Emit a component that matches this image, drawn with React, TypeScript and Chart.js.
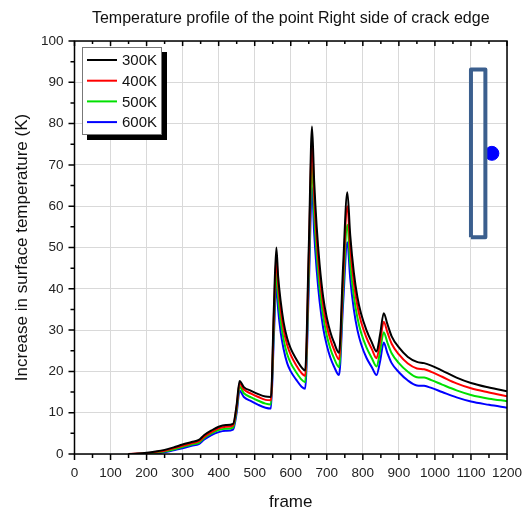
import React, { useEffect, useRef } from "react";
import { Chart, registerables } from "chart.js";

Chart.register(...registerables);

// ---- Data ----
const frames = [
  150, 175, 200, 225, 250, 275, 300, 325, 345, 360, 380, 400, 420, 440, 450, 458, 470, 490, 510, 530,
  545, 553, 560, 565, 572, 580, 590, 600, 615, 630, 640, 650, 659, 665, 672, 680, 690, 700, 710, 720,
  734, 745, 757, 765, 775, 785, 795, 810, 825, 838, 848, 858, 868, 880, 900, 925, 950, 970, 990, 1020,
  1060, 1100, 1150, 1200,
];

const t300K = [
  0, 0.1, 0.3, 0.6, 1.0, 1.6, 2.3, 2.9, 3.4, 4.6, 5.7, 6.6, 7.0, 7.3, 12, 17.7, 16.2, 15.3, 14.5, 13.9,
  13.8, 35, 50, 43, 37, 32, 28, 25.5, 23, 21, 20.2, 50, 79.3, 66, 55, 46, 38, 33, 29.5, 27,
  24.5, 45, 63.4, 53, 44, 38, 34, 30, 27, 24.8, 29, 34.1, 31.5, 28.5, 25.8, 23.5, 22.3, 22, 21.4, 20.2,
  18.5, 17.2, 16.1, 15.2,
];

const t400K = [
  0, 0.1, 0.2, 0.5, 0.8, 1.4, 2.0, 2.6, 3.1, 4.2, 5.3, 6.2, 6.6, 6.9, 11.5, 17.1, 15.6, 14.6, 13.8, 13.1,
  13.0, 33, 47.5, 41, 35, 30.2, 26.4, 24, 21.5, 19.6, 18.9, 47, 75.5, 62.5, 52, 43.5, 36, 31, 27.7, 25.3,
  22.9, 42, 60, 50, 41.5, 35.8, 32, 28.2, 25.4, 23.2, 27.2, 32, 29.5, 26.7, 24.1, 21.9, 20.7, 20.5, 19.9, 18.7,
  17.1, 15.9, 14.9, 14.0,
];

const t500K = [
  0, 0, 0.1, 0.3, 0.6, 1.1, 1.7, 2.3, 2.7, 3.9, 5.0, 5.8, 6.1, 6.4, 10.8, 16.3, 14.7, 13.7, 12.9, 12.2,
  12.0, 30.5, 44, 38, 32.3, 27.8, 24.2, 22, 19.8, 18, 17.4, 43.5, 70, 58, 48.3, 40.3, 33.3, 28.7, 25.5, 23.2,
  21, 39, 55.5, 46, 38.2, 33, 29.4, 25.8, 23.2, 21.2, 24.9, 29.5, 27, 24.4, 22, 19.9, 18.6, 18.5, 17.9, 16.8,
  15.4, 14.3, 13.4, 12.8,
];

const t600K = [
  0, 0, 0, 0.1, 0.4, 0.9, 1.4, 2.0, 2.4, 3.5, 4.6, 5.3, 5.6, 5.9, 10, 15.3, 13.8, 12.8, 11.9, 11.2,
  11.0, 28, 41, 35, 29.5, 25.5, 22, 20, 18, 16.3, 15.8, 40, 64.6, 53.5, 44.5, 37, 30.5, 26.3, 23.3, 21.2,
  19.1, 36, 51.3, 42.5, 35, 30, 26.7, 23.3, 21, 19.1, 22.5, 27, 24.5, 22, 19.8, 17.8, 16.6, 16.5, 16, 15,
  13.7, 12.7, 11.9, 11.2,
];

const seriesLabels = ["300K", "400K", "500K", "600K"];
const seriesValues = [t300K, t400K, t500K, t600K];
const seriesColors = ["#000000", "#ff0000", "#00e000", "#0000ff"];

// Inset: specimen outline and measured point
const specimenX = [1100, 1100, 1140, 1140, 1100];
const specimenY = [52.5, 93.1, 93.1, 52.5, 52.5];
const pointX = [1158];
const pointY = [72.8];

const FONT = "'Liberation Sans', Arial, sans-serif";

const frameTicksPlugin = {
  id: "frameTicks",
  afterDatasetsDraw(chart: any) {
    const { ctx, chartArea, scales } = chart;
    const { left, right, top, bottom } = chartArea;
    const xs = scales.x;
    const ys = scales.y;
    ctx.save();
    ctx.strokeStyle = "#000";
    ctx.lineWidth = 1.5;
    ctx.strokeRect(left, top, right - left, bottom - top);
    ctx.beginPath();
    for (let v = xs.min; v <= xs.max; v += 50) {
      const px = xs.getPixelForValue(v);
      const major = v % 100 === 0;
      ctx.moveTo(px, bottom);
      ctx.lineTo(px, bottom + (major ? 6 : 4));
      ctx.moveTo(px, top);
      ctx.lineTo(px, top + (major ? 5 : 3));
    }
    for (let v = ys.min; v <= ys.max; v += 5) {
      const py = ys.getPixelForValue(v);
      const major = v % 10 === 0;
      ctx.moveTo(left, py);
      ctx.lineTo(left - (major ? 6 : 4), py);
    }
    ctx.stroke();
    ctx.restore();
  },
};

const legendPlugin = {
  id: "boxLegend",
  afterDraw(chart: any) {
    const { ctx, chartArea } = chart;
    const bx = chartArea.left + 7.5;
    const by = chartArea.top + 6;
    const bw = 80;
    const bh = 88;
    ctx.save();
    ctx.fillStyle = "#000";
    ctx.fillRect(bx + 5, by + 5, bw, bh);
    ctx.fillStyle = "#fff";
    ctx.fillRect(bx, by, bw, bh);
    ctx.strokeStyle = "#777";
    ctx.lineWidth = 1;
    ctx.strokeRect(bx + 0.5, by + 0.5, bw - 1, bh - 1);
    ctx.font = `15px ${FONT}`;
    ctx.textBaseline = "middle";
    ctx.textAlign = "left";
    for (let i = 0; i < 4; i++) {
      const ds = chart.data.datasets[i];
      const yy = by + 13 + i * 20.7;
      ctx.strokeStyle = ds.borderColor;
      ctx.lineWidth = 2;
      ctx.beginPath();
      ctx.moveTo(bx + 5, yy);
      ctx.lineTo(bx + 35, yy);
      ctx.stroke();
      ctx.fillStyle = "#111";
      ctx.fillText(ds.label, bx + 40, yy + 1);
    }
    ctx.restore();
  },
};

export default function App() {
  const ref = useRef<HTMLCanvasElement | null>(null);

  useEffect(() => {
    if (!ref.current) return;
    const datasets: any[] = seriesLabels.map((label, i) => ({
      label,
      data: frames.map((f, j) => ({ x: f, y: seriesValues[i][j] })),
      borderColor: seriesColors[i],
      backgroundColor: seriesColors[i],
      borderWidth: 2,
      pointRadius: 0,
      cubicInterpolationMode: "monotone",
      fill: false,
    }));
    datasets.push({
      label: "specimen",
      data: specimenX.map((x, j) => ({ x, y: specimenY[j] })),
      borderColor: "#3b5f8e",
      borderWidth: 4,
      borderJoinStyle: "round",
      pointRadius: 0,
      tension: 0,
      fill: false,
    });
    datasets.push({
      label: "point",
      data: pointX.map((x, j) => ({ x, y: pointY[j] })),
      showLine: false,
      pointRadius: 7,
      pointBackgroundColor: "#0000ff",
      pointBorderColor: "#0000ff",
      borderColor: "#0000ff",
    });

    const chart = new Chart(ref.current, {
      type: "line",
      data: { datasets },
      options: {
        responsive: false,
        animation: false,
        layout: { padding: { left: 0, right: 21, top: 0, bottom: 0 }, autoPadding: false },
        plugins: {
          legend: { display: false },
          tooltip: { enabled: false },
          title: {
            display: true,
            fullSize: false,
            text: "Temperature profile of the point Right side of crack edge",
            color: "#111",
            font: { family: FONT, size: 16, weight: "normal" },
            padding: { top: 9, bottom: 12.8 },
          },
        },
        scales: {
          x: {
            type: "linear",
            min: 0,
            max: 1200,
            afterFit: (s: any) => {
              s.height = 60;
              s.paddingLeft = 0;
              s.paddingRight = 0;
            },
            ticks: {
              stepSize: 100,
              autoSkip: false,
              color: "#222",
              padding: 11,
              maxRotation: 0,
              minRotation: 0,
              font: { family: FONT, size: 13.5 },
              callback: (v: any) => String(v),
            },
            grid: { color: "#d9d9d9", lineWidth: 1, drawTicks: false },
            border: { display: false },
            title: {
              display: true,
              text: "frame",
              color: "#111",
              font: { family: FONT, size: 17 },
              padding: { top: 0, bottom: 1 },
            },
          },
          y: {
            type: "linear",
            min: 0,
            max: 100,
            afterFit: (s: any) => {
              s.width = 74.5;
              s.paddingTop = 0;
              s.paddingBottom = 0;
            },
            ticks: {
              stepSize: 10,
              autoSkip: false,
              color: "#222",
              padding: 11,
              font: { family: FONT, size: 13.5 },
              callback: (v: any) => String(v),
            },
            grid: { color: "#d9d9d9", lineWidth: 1, drawTicks: false },
            border: { display: false },
            title: {
              display: true,
              text: "Increase in surface temperature (K)",
              color: "#111",
              font: { family: FONT, size: 17 },
              padding: { top: 12, bottom: 0 },
            },
          },
        },
      },
      plugins: [frameTicksPlugin, legendPlugin],
    } as any);

    return () => chart.destroy();
  }, []);

  return (
    <div style={{ position: "absolute", left: 0, top: 0, width: 528, height: 514, background: "#fff" }}>
      <canvas ref={ref} width={528} height={514} />
    </div>
  );
}
